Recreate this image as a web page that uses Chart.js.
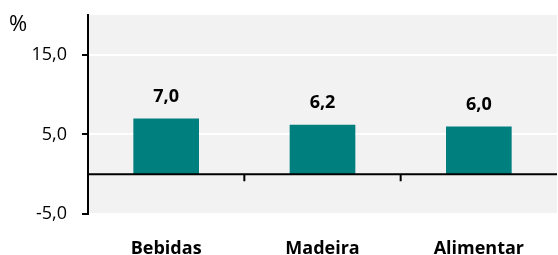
<!DOCTYPE html>
<html>
<head>
<meta charset="utf-8">
<script src="https://cdn.jsdelivr.net/npm/chart.js@4"></script>
<style>
html,body{margin:0;padding:0;background:#fff;}
#wrap{width:558px;height:255px;}
</style>
</head>
<body>
<div id="wrap"><canvas id="c" width="558" height="255"></canvas></div>
<script>
const categories = ["Bebidas", "Madeira", "Alimentar"];
const values = [7.0, 6.2, 6.0];
const yTicks = [-5, 5, 15];
const yMin = -5, yMax = 20;
const unitLabel = "%";

const FONT = "'Open Sans', sans-serif";
const fmt = v => v.toFixed(1).replace('.', ',');

const decor = {
  id: 'decor',
  beforeDraw(chart) {
    const {ctx, chartArea: a} = chart;
    ctx.save();
    ctx.fillStyle = '#f2f2f2';
    ctx.fillRect(a.left, a.top, a.right - a.left, a.bottom - a.top);
    ctx.restore();
  },
  afterDatasetsDraw(chart) {
    const {ctx, chartArea: a, scales: {x, y}} = chart;
    const y0 = y.getPixelForValue(0);
    ctx.save();
    ctx.strokeStyle = '#000';
    ctx.lineWidth = 2;
    ctx.beginPath();
    ctx.moveTo(a.left, y0);
    ctx.lineTo(a.right, y0);
    for (let i = 0; i < categories.length - 1; i++) {
      const xb = (x.getPixelForValue(i) + x.getPixelForValue(i + 1)) / 2;
      ctx.moveTo(xb, y0);
      ctx.lineTo(xb, y0 + 7);
    }
    ctx.stroke();
    // data labels
    ctx.fillStyle = '#000';
    ctx.font = "bold 18px " + FONT;
    ctx.textAlign = 'center';
    ctx.textBaseline = 'middle';
    chart.getDatasetMeta(0).data.forEach((bar, i) => {
      ctx.fillText(fmt(values[i]), bar.x, bar.y - 22);
    });
    // unit label
    ctx.font = "22px " + FONT;
    ctx.textAlign = 'left';
    ctx.fillText(unitLabel, 9, 25);
    ctx.restore();
  }
};

new Chart(document.getElementById('c'), {
  type: 'bar',
  data: {
    labels: categories,
    datasets: [{
      data: values,
      backgroundColor: '#007f7f',
      borderWidth: 0,
      barPercentage: 0.42,
      categoryPercentage: 1.0
    }]
  },
  options: {
    responsive: false,
    animation: false,
    devicePixelRatio: 1,
    layout: {padding: {top: 15, right: 1, left: 0, bottom: 0}},
    plugins: {legend: {display: false}, tooltip: {enabled: false}},
    scales: {
      x: {
        grid: {display: false, drawTicks: false},
        border: {display: false},
        ticks: {
          color: '#000',
          font: {family: FONT, size: 18, weight: 'bold'},
          padding: 24,
          maxRotation: 0
        },
        afterFit(s) { s.height = 41; s.paddingLeft = 0; s.paddingRight = 0; }
      },
      y: {
        min: yMin,
        max: yMax,
        afterBuildTicks(s) { s.ticks = yTicks.map(v => ({value: v})); },
        grid: {color: '#ffffff', lineWidth: 2, tickColor: '#000', tickLength: 6, tickWidth: 2},
        border: {display: true, color: '#000', width: 2},
        ticks: {
          color: '#000',
          font: {family: FONT, size: 18},
          padding: 15,
          callback: v => fmt(v)
        },
        afterFit(s) { s.width = 88; s.paddingTop = 0; s.paddingBottom = 0; }
      }
    }
  },
  plugins: [decor]
});
</script>
</body>
</html>
